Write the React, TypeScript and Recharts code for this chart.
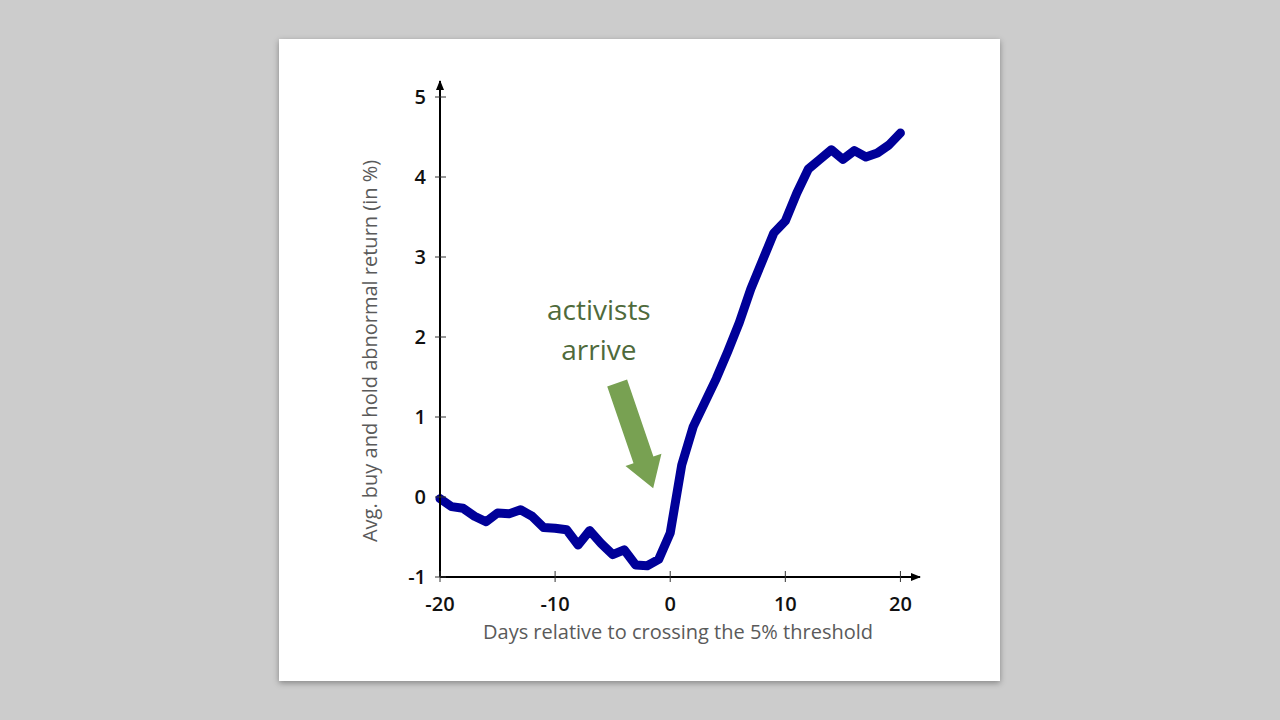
import { LineChart, Line, XAxis, YAxis, Label, ReferenceLine, ReferenceDot } from "recharts";

const DAYS = [
  -20, -19, -18, -17, -16, -15, -14, -13, -12, -11, -10, -9, -8, -7, -6, -5, -4, -3, -2, -1,
  0, 1, 2, 3, 4, 5, 6, 7, 8, 9, 10, 11, 12, 13, 14, 15, 16, 17, 18, 19, 20,
];
const BHAR = [
  -0.02, -0.12, -0.14, -0.24, -0.31, -0.2, -0.21, -0.16, -0.24, -0.38, -0.39, -0.41, -0.6, -0.42,
  -0.58, -0.72, -0.66, -0.85, -0.86, -0.78, -0.45, 0.4, 0.88, 1.18, 1.48, 1.82, 2.18, 2.6, 2.95,
  3.3, 3.45, 3.8, 4.1, 4.22, 4.34, 4.22, 4.33, 4.25, 4.3, 4.4, 4.55,
];
const X_TICKS = [-20, -10, 0, 10, 20];
const Y_TICKS = [-1, 0, 1, 2, 3, 4, 5];
const NOTE_LINES = ["activists", "arrive"];

const data = DAYS.map((d, i) => ({ day: d, v: BHAR[i] }));

const FONT = "'Open Sans', 'Noto Sans', sans-serif";

const XTick = ({ x, y, payload }: any) => (
  <g>
    <line x1={x} x2={x} y1={y - 6} y2={y + 5} stroke="#333" strokeWidth={1} />
    <text x={x} y={y + 34} textAnchor="middle" fontSize={20} fontWeight={600} fill="#111" fontFamily={FONT}>
      {payload.value}
    </text>
  </g>
);

const YTick = ({ x, y, payload }: any) => (
  <g>
    <line x1={x - 5} x2={x + 6} y1={y} y2={y} stroke="#333" strokeWidth={1} />
    <text x={x - 14} y={y + 7} textAnchor="end" fontSize={20} fontWeight={600} fill="#111" fontFamily={FONT}>
      {payload.value}
    </text>
  </g>
);

// green block arrow between two chart points
const Arrow = ({ x1, y1, x2, y2 }: any) => {
  const dx = x2 - x1;
  const dy = y2 - y1;
  const len = Math.sqrt(dx * dx + dy * dy);
  const ux = dx / len;
  const uy = dy / len;
  const nx = -uy;
  const ny = ux;
  const shaft = 10.5;
  const head = 19;
  const headLen = 30;
  const bx = x2 - ux * headLen;
  const by = y2 - uy * headLen;
  const pts = [
    [x1 + nx * shaft, y1 + ny * shaft],
    [bx + nx * shaft, by + ny * shaft],
    [bx + nx * head, by + ny * head],
    [x2, y2],
    [bx - nx * head, by - ny * head],
    [bx - nx * shaft, by - ny * shaft],
    [x1 - nx * shaft, y1 - ny * shaft],
  ]
    .map((p) => p.join(","))
    .join(" ");
  return <polygon points={pts} fill="#78a152" />;
};

const Note = ({ cx, cy }: any) => (
  <g>
    {NOTE_LINES.map((t, i) => (
      <text
        key={t}
        x={cx}
        y={cy + i * 40 + 10}
        textAnchor="middle"
        fontSize={28}
        fill="#4f6a3b"
        fontFamily={FONT}
      >
        {t}
      </text>
    ))}
  </g>
);

export default function App() {
  return (
    <div style={{ position: "absolute", left: 0, top: 0, width: 1280, height: 720, background: "#cccccc" }}>
      <div
        style={{
          position: "absolute",
          left: 279,
          top: 39,
          width: 721,
          height: 642,
          background: "#fff",
          boxShadow: "0 2px 6px rgba(0,0,0,0.35)",
        }}
      >
        <LineChart width={721} height={642} data={data} margin={{ top: 42, right: 80, left: 0, bottom: 0 }}>
          <defs>
            <marker id="arrowHead" viewBox="0 0 10 10" refX="9" refY="5" markerWidth="10" markerHeight="10" orient="auto-start-reverse" markerUnits="userSpaceOnUse">
              <path d="M0,1 L10,5 L0,9 z" fill="#000" />
            </marker>
          </defs>
          <XAxis
            dataKey="day"
            type="number"
            domain={[-20, 21.7]}
            ticks={X_TICKS}
            height={104}
            tickSize={0}
            tickMargin={0}
            tickLine={false}
            tick={<XTick />}
            axisLine={{ stroke: "#000", strokeWidth: 2, markerEnd: "url(#arrowHead)" }}
          >
            <Label
              content={({ viewBox }: any) => (
                <text
                  x={viewBox.x + 238}
                  y={viewBox.y + 62}
                  textAnchor="middle"
                  fontSize={20}
                  fill="#5a5a5a"
                  fontFamily={FONT}
                >
                  Days relative to crossing the 5% threshold
                </text>
              )}
            />
          </XAxis>
          <YAxis
            type="number"
            domain={[-1, 5.2]}
            ticks={Y_TICKS}
            width={161}
            tickSize={0}
            tickMargin={0}
            tickLine={false}
            tick={<YTick />}
            axisLine={{ stroke: "#000", strokeWidth: 2, markerStart: "url(#arrowHead)" }}
          >
            <Label
              content={({ viewBox }: any) => {
                const cx = viewBox.x + 98;
                const cy = viewBox.y + 270;
                return (
                  <text
                    x={cx}
                    y={cy}
                    transform={`rotate(-90, ${cx}, ${cy})`}
                    textAnchor="middle"
                    fontSize={20}
                    fill="#5a5a5a"
                    fontFamily={FONT}
                  >
                    Avg. buy and hold abnormal return (in %)
                  </text>
                );
              }}
            />
          </YAxis>
          <ReferenceLine
            segment={[
              { x: -4.61, y: 1.425 },
              { x: -1.48, y: 0.11 },
            ]}
            shape={<Arrow />}
          />
          <ReferenceDot x={-6.2} y={2.34} shape={<Note />} />
          <Line
            type="linear"
            dataKey="v"
            stroke="#000099"
            strokeWidth={9}
            strokeLinejoin="round"
            strokeLinecap="round"
            dot={false}
            isAnimationActive={false}
          />
        </LineChart>
      </div>
    </div>
  );
}
